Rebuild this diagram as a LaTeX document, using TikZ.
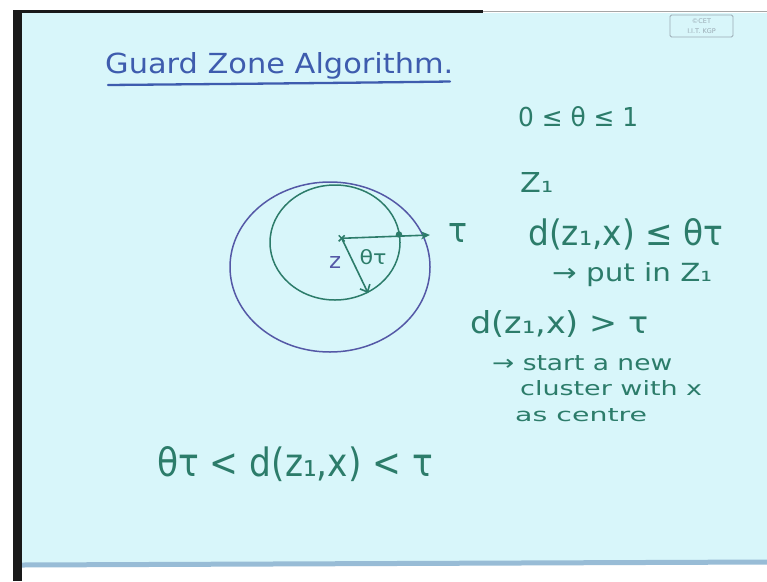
\documentclass[tikz,border=0pt]{standalone}
\usepackage{fontspec}
\usepackage{graphicx}
\setmainfont{DejaVu Sans}
\usetikzlibrary{arrows.meta,calc}
\definecolor{bgcyan}{HTML}{D8F6FA}
\definecolor{inkblue}{HTML}{3E5CAE}
\definecolor{inkgreen}{HTML}{2C7C6A}
\definecolor{circblue}{HTML}{5458A6}
\definecolor{edgeblue}{HTML}{98BCD6}
\definecolor{boxgray}{HTML}{9AAAB4}
\newcommand{\fitw}[2]{\resizebox{#1pt}{!}{#2}}
\newcommand{\fitwh}[3]{\resizebox{#1pt}{#2pt}{#3}}
\tikzset{
  hand/.style={inner sep=0pt, anchor=base west, text=inkgreen},
  handc/.style={inner sep=0pt, anchor=center, text=inkgreen},
  ring/.style={line width=1.5pt},
}
\begin{document}
\begin{tikzpicture}[x=1pt,y=-1pt]
\useasboundingbox (0,0) rectangle (767,581);
% backdrop
\fill[white] (0,0) rectangle (767,581);
\fill[bgcyan] (21.7,12.7) rectangle (767,564);
\fill[edgeblue] (21.7,562.5) -- (767,559.5) -- (767,564.5) -- (21.7,567.5) -- cycle;
\fill[black!90] (13,10) rectangle (22,581);
\fill[black!90] (13,10) rectangle (483,13);
\fill[black!35] (483,11) rectangle (767,12.2);
% copyright box
\draw[boxgray, line width=0.8pt, rounded corners=1.5pt] (670,15) rectangle (733,37);
\node[text=boxgray, inner sep=0pt, font=\fontsize{6.5}{7}\selectfont] (c1) at (701.5,21.5) {©CET};
\node[text=boxgray, inner sep=0pt, font=\fontsize{6.5}{7}\selectfont] (c2) at (701.5,31) {I.I.T. KGP};
% title
\node[hand, text=inkblue] (title) at (105,73) {\fitwh{348}{21}{Guard Zone Algorithm.}};
\draw[inkblue, line width=2.3pt, line cap=round] (108,85) .. controls (220,84) and (340,83) .. (450,81.5);
% circles
\draw[ring, circblue] (330,267) ellipse [x radius=100, y radius=85];
\draw[ring, inkgreen] (335,242.5) ellipse [x radius=65, y radius=57.5];
\coordinate (z) at (341.7,238.3);
\coordinate (t) at (430,235);
\coordinate (b) at (368,293);
\coordinate (ip) at (399,234.5);
\draw[inkgreen, line width=1.5pt] ($(z)+(-3,-3)$) -- ($(z)+(3,3)$) ($(z)+(-3,3)$) -- ($(z)+(3,-3)$);
\draw[inkgreen, line width=1.6pt, -{Stealth[length=9pt,width=8pt]}] (z) -- (t);
\fill[inkgreen] (ip) circle (3.2pt);
\draw[inkgreen, line width=1.6pt, -{Straight Barb[length=6pt,width=11pt]}] (z) -- (b);
\node[handc, text=circblue] (zl) at (335,262) {\fitwh{12}{12}{z}};
\node[handc] (tl) at (373,257) {\fitwh{27}{15}{θτ}};
\node[hand] (tau) at (448,242) {\fitwh{19}{19}{τ}};
% right column
\node[hand] (r1) at (518,126) {\fitwh{120}{20}{0 ≤ θ ≤ 1}};
\node[hand] (r2) at (520,192) {\fitwh{33}{20}{Z₁}};
\node[hand] (r3) at (528,245) {\fitwh{195}{27}{d(z₁,x) ≤ θτ}};
\node[hand] (r4) at (552,281) {\fitwh{160}{19}{→ put in Z₁}};
\node[hand] (r5) at (470,333) {\fitwh{178}{23}{d(z₁,x) > τ}};
\node[hand] (r6) at (492,370) {\fitwh{180}{15}{→ start a new}};
\node[hand] (r7) at (520,395) {\fitwh{182}{15}{cluster with x}};
\node[hand] (r8) at (515,421) {\fitwh{132}{13}{as centre}};
% bottom
\node[hand] (bt) at (157,476) {\fitwh{276}{30}{θτ < d(z₁,x) < τ}};
\end{tikzpicture}
\end{document}
